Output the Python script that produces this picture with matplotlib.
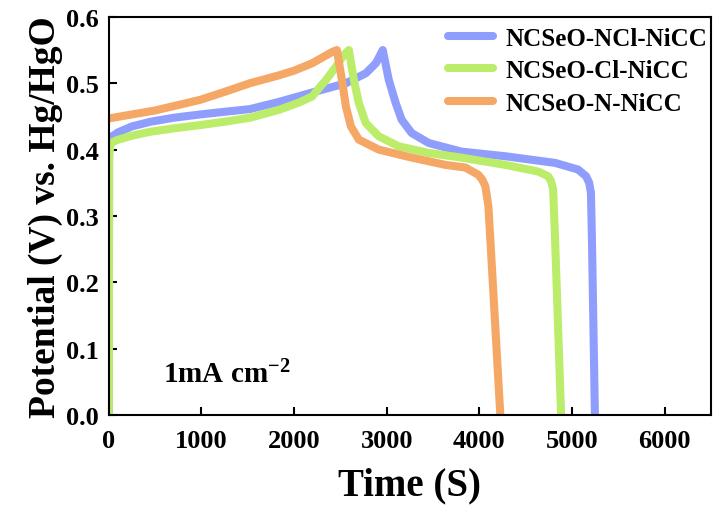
import numpy as np
import matplotlib
matplotlib.use('Agg')
import matplotlib.pyplot as plt

plt.rcParams['font.family'] = ['Liberation Serif', 'DejaVu Serif']
plt.rcParams['font.weight'] = 'bold'
plt.rcParams['mathtext.default'] = 'regular'

# 数据
labels = ['NCSeO-NCl-NiCC', 'NCSeO-Cl-NiCC', 'NCSeO-N-NiCC']
colors = ['#8f9dfd', '#bbec6a', '#f5a766']

t_ncl = [0, 3, 15, 100, 250, 450, 700, 986, 1250, 1522, 1839, 2194, 2559, 2774, 2882, 2957,
         3022, 3097, 3161, 3269, 3452, 3806, 4280, 4817, 5065, 5151, 5185, 5204, 5215, 5247]
v_ncl = [0, 0.40, 0.418, 0.426, 0.435, 0.442, 0.448, 0.453, 0.457, 0.461, 0.472, 0.486, 0.50,
         0.515, 0.53, 0.55,
         0.505, 0.47, 0.445, 0.425, 0.41, 0.397, 0.39, 0.38, 0.37, 0.36, 0.35, 0.335, 0.265, 0]

t_cl = [0, 3, 20, 100, 250, 450, 700, 986, 1250, 1522, 1839, 2054, 2194, 2344, 2452, 2538, 2591,
        2645, 2699, 2774, 2914, 3129, 3452, 3806, 4280, 4634, 4742, 4775, 4796, 4817, 4882]
v_cl = [0, 0.39, 0.41, 0.415, 0.421, 0.427, 0.432, 0.437, 0.442, 0.448, 0.46, 0.471, 0.48,
        0.505, 0.525, 0.543, 0.55,
        0.505, 0.47, 0.44, 0.42, 0.405, 0.395, 0.388, 0.377, 0.367, 0.36, 0.352, 0.34, 0.265, 0]

t_n = [0, 500, 986, 1250, 1522, 1839, 2000, 2194, 2409, 2462, 2516, 2559, 2613, 2699, 2914, 3269,
       3634, 3849, 3989, 4030, 4064, 4097, 4118, 4226]
v_n = [0.447, 0.459, 0.475, 0.487, 0.50, 0.512, 0.519, 0.53, 0.547, 0.55, 0.505, 0.465, 0.435,
       0.415, 0.40, 0.388, 0.377, 0.373, 0.362, 0.355, 0.345, 0.315, 0.265, 0]

fig = plt.figure(figsize=(7.16, 5.1), dpi=100)
ax = fig.add_axes([0.152, 0.184, 0.841, 0.781])

for t, v, c, lab in zip([t_ncl, t_cl, t_n], [v_ncl, v_cl, v_n], colors, labels):
    ax.plot(t, v, color=c, lw=5.8, label=lab, solid_joinstyle='round', solid_capstyle='round')

ax.set_xlim(0, 6500)
ax.set_ylim(0, 0.6)
ax.set_xticks(np.arange(0, 6001, 1000))
ax.set_yticks(np.arange(0, 0.61, 0.1))
ax.set_yticklabels(['%.1f' % y for y in np.arange(0, 0.61, 0.1)])
ax.tick_params(axis='both', direction='in', length=6, width=1.5, labelsize=19)
ax.tick_params(axis='x', pad=10)
ax.tick_params(axis='y', pad=7)
for s in ax.spines.values():
    s.set_linewidth(1.5)

ax.set_xlabel('Time (S)', fontsize=28, fontweight='bold', labelpad=10)
ax.set_ylabel('Potential (V) vs. Hg/HgO', fontsize=27, fontweight='bold', labelpad=2)

ax.text(580, 0.05, '1mA cm$^{-2}$', fontsize=21, fontweight='bold')

ax.legend(loc='upper right', bbox_to_anchor=(1.0, 0.985), frameon=False, handlelength=1.8,
          borderaxespad=0.05, borderpad=0.1, labelspacing=0.38, handletextpad=0.5,
          prop={'weight': 'bold', 'size': 18})

fig.savefig('out.png', dpi=100)
